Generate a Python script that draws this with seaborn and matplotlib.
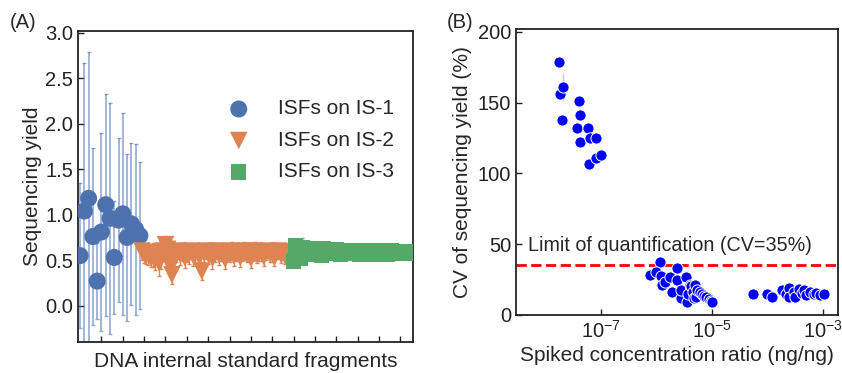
import matplotlib
matplotlib.use('Agg')
import matplotlib.pyplot as plt
import matplotlib.ticker as mticker
import seaborn as sns

# Panel A: sequencing yield of the internal standard fragments
is1_pos = list(range(0, 30, 2))
is1_yield = [0.55, 1.04, 1.18, 0.76, 0.27, 0.81, 1.11, 0.96, 0.53, 0.94,
             1.01, 0.75, 0.90, 0.84, 0.77]
is1_err = [0.80, 1.63, 1.61, 0.97, 0.42, 1.09, 1.22, 1.27, 0.62, 0.90,
           1.11, 0.92, 0.89, 0.94, 0.81]

is2_pos = list(range(29, 102))
is2_yield = [0.60, 0.58, 0.55, 0.57, 0.53, 0.56, 0.50, 0.58, 0.47, 0.52,
             0.60, 0.67, 0.62, 0.45, 0.34, 0.50, 0.58, 0.60, 0.56, 0.59,
             0.53, 0.58, 0.57, 0.60, 0.55, 0.58, 0.59, 0.54, 0.38, 0.58,
             0.60, 0.57, 0.59, 0.52, 0.58, 0.60, 0.56, 0.59, 0.58, 0.51,
             0.59, 0.57, 0.60, 0.55, 0.58, 0.59, 0.53, 0.58, 0.60, 0.57,
             0.59, 0.52, 0.58, 0.60, 0.56, 0.59, 0.58, 0.54, 0.59, 0.60,
             0.57, 0.58, 0.53, 0.59, 0.60, 0.57, 0.58, 0.55, 0.59, 0.58,
             0.56, 0.59, 0.58]
is2_err = [0.10, 0.11, 0.09, 0.12, 0.10, 0.13, 0.11, 0.10, 0.14, 0.12,
           0.11, 0.10, 0.13, 0.11, 0.10, 0.12, 0.10, 0.09, 0.11, 0.10,
           0.12, 0.10, 0.11, 0.09, 0.11, 0.10, 0.09, 0.11, 0.10, 0.10,
           0.09, 0.11, 0.10, 0.12, 0.10, 0.09, 0.11, 0.10, 0.09, 0.11,
           0.10, 0.09, 0.10, 0.11, 0.09, 0.10, 0.11, 0.09, 0.10, 0.09,
           0.10, 0.11, 0.09, 0.10, 0.09, 0.10, 0.09, 0.10, 0.09, 0.08,
           0.09, 0.10, 0.09, 0.08, 0.09, 0.10, 0.08, 0.09, 0.08, 0.09,
           0.08, 0.09, 0.08]

is3_pos = list(range(100, 156))
is3_yield = [0.49, 0.66, 0.62, 0.52, 0.64, 0.60, 0.56, 0.63, 0.58, 0.61,
             0.57, 0.62, 0.59, 0.55, 0.63, 0.60, 0.58, 0.61, 0.57, 0.60,
             0.62, 0.58, 0.56, 0.60, 0.59, 0.61, 0.58, 0.57, 0.60, 0.59,
             0.58, 0.56, 0.60, 0.61, 0.58, 0.57, 0.59, 0.60, 0.56, 0.58,
             0.59, 0.57, 0.60, 0.59, 0.56, 0.58, 0.60, 0.57, 0.59, 0.58,
             0.57, 0.59, 0.58, 0.57, 0.59, 0.58]
is3_err = [0.06, 0.07, 0.06, 0.05, 0.10, 0.06, 0.05, 0.06, 0.05, 0.06,
           0.05, 0.06, 0.05, 0.05, 0.06, 0.05, 0.05, 0.06, 0.05, 0.05,
           0.06, 0.05, 0.05, 0.05, 0.06, 0.05, 0.05, 0.05, 0.05, 0.05,
           0.05, 0.05, 0.05, 0.05, 0.05, 0.05, 0.05, 0.05, 0.05, 0.05,
           0.05, 0.05, 0.05, 0.05, 0.05, 0.05, 0.05, 0.05, 0.05, 0.05,
           0.05, 0.05, 0.05, 0.05, 0.05, 0.05]

# Panel B: CV vs spiked concentration ratio
conc = [1.78e-8, 1.86e-8, 2.14e-8, 2.04e-8, 4.07e-8, 4.17e-8, 3.8e-8, 4.27e-8,
        6.0e-8, 6.5e-8, 8.1e-8, 6.2e-8, 8.3e-8, 1.02e-7,
        1.17e-6, 7.6e-7, 9.8e-7, 1.2e-6, 1.29e-6, 1.45e-6, 1.78e-6, 1.95e-6,
        2.34e-6, 2.4e-6, 2.75e-6, 2.82e-6, 3.47e-6, 3.63e-6, 3.72e-6, 3.98e-6,
        4.27e-6, 4.57e-6, 4.79e-6, 5.0e-6, 5.25e-6, 5.5e-6, 6.03e-6, 6.6e-6,
        7.24e-6, 7.94e-6, 8.9e-6, 9.5e-6, 1.02e-5,
        5.6e-5, 9.8e-5, 1.2e-4, 1.82e-4, 2.14e-4, 2.45e-4, 2.4e-4, 2.95e-4,
        3.16e-4, 3.63e-4, 4.17e-4, 4.57e-4, 5.0e-4, 5.75e-4, 6.76e-4, 7.6e-4,
        8.7e-4, 1.05e-3]
cv = [179, 156, 161, 138, 151, 141, 132, 122, 132, 125, 125, 107, 111, 113,
      37.5, 28.5, 30.5, 27.5, 21, 23.5, 27, 16.5, 33, 24.5, 12, 17.5, 26.5,
      9, 15, 21, 20.5, 16.5, 12, 21, 13, 18, 16.5, 15, 13.5, 12.5, 11, 10, 9.5,
      14.6, 14.6, 12.5, 17.7, 14.9, 18.9, 12.5, 16.5, 13.0, 18.2, 15.3, 17.7,
      14.2, 16.5, 14.9, 15.8, 14.4, 14.6]
loq = 35

sns.set_style('white')
plt.rcParams['font.family'] = ['Liberation Sans', 'DejaVu Sans']
plt.rcParams['mathtext.fontset'] = 'custom'
plt.rcParams['mathtext.rm'] = 'Liberation Sans'
plt.rcParams['mathtext.it'] = 'Liberation Sans:italic'

pal = sns.color_palette('deep')
fig = plt.figure(figsize=(8.42, 3.73), dpi=100)
ax1 = fig.add_axes([0.0926, 0.083, 0.398, 0.834])
ax2 = fig.add_axes([0.6128, 0.1555, 0.3824, 0.7665])

# --- A ---
ax1.errorbar(is1_pos, is1_yield, yerr=is1_err, fmt='none', ecolor=pal[0],
             alpha=0.6, elinewidth=1.2, capsize=1.5, zorder=1)
ax1.errorbar(is2_pos, is2_yield, yerr=is2_err, fmt='none', ecolor=pal[1],
             elinewidth=1.0, capsize=1.5, zorder=1)
ax1.errorbar(is3_pos, is3_yield, yerr=is3_err, fmt='none', ecolor=pal[2],
             elinewidth=1.0, capsize=1.5, zorder=1)
sns.scatterplot(x=is1_pos, y=is1_yield, ax=ax1, color=pal[0], marker='o',
                s=150, edgecolor='none', label='ISFs on IS-1', zorder=3)
sns.scatterplot(x=is2_pos, y=is2_yield, ax=ax1, color=pal[1], marker='v',
                s=160, edgecolor='none', label='ISFs on IS-2', zorder=3)
sns.scatterplot(x=is3_pos, y=is3_yield, ax=ax1, color=pal[2], marker='s',
                s=120, edgecolor='none', label='ISFs on IS-3', zorder=4)
ax1.set_xlim(-1, 156)
ax1.set_ylim(-0.4, 3.02)
ax1.set_xticks(range(10, 156, 10))
ax1.set_xticklabels([])
ax1.set_yticks([0, 0.5, 1.0, 1.5, 2.0, 2.5, 3.0])
ax1.set_yticklabels(['0.0', '0.5', '1.0', '1.5', '2.0', '2.5', '3.0'])
ax1.tick_params(direction='in', length=4, width=1, labelsize=14.5,
                colors='#222222', bottom=True, left=True)
ax1.set_xlabel('DNA internal standard fragments', fontsize=15, labelpad=4)
ax1.set_ylabel('Sequencing yield', fontsize=15, labelpad=2)
ax1.legend(loc='upper right', bbox_to_anchor=(1.0, 0.84), frameon=False,
           fontsize=15, handlelength=1, handletextpad=1.4, labelspacing=0.6,
           markerscale=1.0)

# --- B ---
ax2.errorbar([2.14e-8], [161], yerr=[10], fmt='none', ecolor='#c8c8f0',
             elinewidth=1, zorder=1)
sns.scatterplot(x=conc, y=cv, ax=ax2, color='blue', s=65, edgecolor='white',
                linewidth=0.7, zorder=3)
ax2.axhline(loq, color='red', linestyle='--', linewidth=2.0, zorder=2)
ax2.text(5.0e-9, 49, 'Limit of quantification (CV=35%)', fontsize=14.2,
         ha='left', va='center')
ax2.set_xscale('log')
ax2.set_xlim(3e-9, 1.85e-3)
ax2.set_ylim(0, 202)
ax2.set_xticks([1e-7, 1e-5, 1e-3])
ax2.xaxis.set_minor_locator(mticker.NullLocator())
ax2.set_yticks([0, 50, 100, 150, 200])
ax2.tick_params(direction='in', length=4, width=1, labelsize=14.5,
                colors='#222222', bottom=True, left=True)
ax2.set_xlabel('Spiked concentration ratio (ng/ng)', fontsize=15, labelpad=3)
ax2.set_ylabel('CV of sequencing yield (%)', fontsize=15, labelpad=4)

for ax in (ax1, ax2):
    for sp in ax.spines.values():
        sp.set_color('#222222')
        sp.set_linewidth(1.3)

fig.text(0.012, 0.94, '(A)', fontsize=14.5, va='center')
fig.text(0.531, 0.94, '(B)', fontsize=14.5, va='center')

fig.savefig('out.png', dpi=100)
